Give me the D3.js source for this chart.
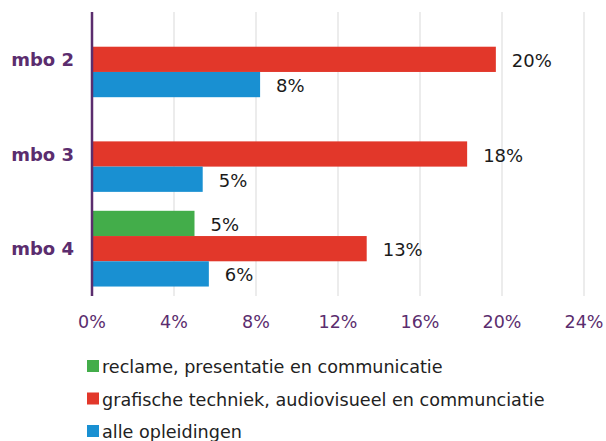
<!DOCTYPE html>
<html>
<head>
<meta charset="utf-8">
<script src="https://cdn.jsdelivr.net/npm/d3@7"></script>
<style>
  body { margin: 0; background: #fff; }
  svg { display: block; font-family: "DejaVu Sans", Verdana, sans-serif; }
</style>
</head>
<body>
<div id="chart"></div>
<script>
// Chart data
var categories = ['mbo 2', 'mbo 3', 'mbo 4'];
var seriesNames = [
  'reclame, presentatie en communicatie',
  'grafische techniek, audiovisueel en communciatie',
  'alle opleidingen'
];
var seriesColors = ['#43ad4a', '#e2372a', '#1990d2'];
var reclameValues = [null, null, 5.0];
var grafischValues = [19.7, 18.3, 13.4];
var alleValues = [8.2, 5.4, 5.7];
var xTicks = [0, 4, 8, 12, 16, 20, 24];

var seriesValues = [reclameValues, grafischValues, alleValues];

// Size & scales
var width = 606, height = 441;
var plotLeft = 92, plotRight = 584, plotTop = 12, plotBottom = 296;

var x = d3.scaleLinear().domain([0, 24]).range([plotLeft, plotRight]);
var y = d3.scaleBand().domain(categories).range([plotTop, plotBottom])
  .paddingInner(0.2).paddingOuter(0.1);
var ySub = d3.scaleBand().domain(d3.range(seriesNames.length))
  .range([0, y.bandwidth()]);

var svg = d3.select('#chart')
  .append('svg')
  .attr('width', width)
  .attr('height', height);

// Gridlines
svg.selectAll('.grid')
  .data(xTicks.slice(1))
  .enter()
  .append('line')
  .attr('class', 'grid')
  .attr('x1', function (d) { return x(d); })
  .attr('x2', function (d) { return x(d); })
  .attr('y1', plotTop)
  .attr('y2', plotBottom)
  .style('stroke', '#d9d9d9')
  .style('stroke-width', 1);

// Bars
var bars = [];
categories.forEach(function (c, ci) {
  seriesValues.forEach(function (vals, si) {
    if (vals[ci] != null) bars.push({ cat: c, s: si, v: vals[ci] });
  });
});

svg.selectAll('.bar')
  .data(bars)
  .enter()
  .append('rect')
  .attr('class', 'bar')
  .attr('x', x(0))
  .attr('y', function (d) { return y(d.cat) + ySub(d.s); })
  .attr('width', function (d) { return x(d.v) - x(0); })
  .attr('height', ySub.bandwidth())
  .style('fill', function (d) { return seriesColors[d.s]; });

// Value labels
svg.selectAll('.val')
  .data(bars)
  .enter()
  .append('text')
  .attr('class', 'val')
  .attr('x', function (d) { return x(d.v) + 16; })
  .attr('y', function (d) { return y(d.cat) + ySub(d.s) + ySub.bandwidth() / 2 + 1; })
  .attr('dominant-baseline', 'central')
  .style('font-size', '18px')
  .style('fill', '#1a1a1a')
  .text(function (d) { return Math.round(d.v) + '%'; });

// Y axis line
svg.append('line')
  .attr('x1', x(0)).attr('x2', x(0))
  .attr('y1', plotTop).attr('y2', plotBottom)
  .style('stroke', '#5b2d6e')
  .style('stroke-width', 2.5);

// Category labels
svg.selectAll('.cat')
  .data(categories)
  .enter()
  .append('text')
  .attr('class', 'cat')
  .attr('x', 74)
  .attr('y', function (d) { return y(d) + y.bandwidth() / 2; })
  .attr('text-anchor', 'end')
  .attr('dominant-baseline', 'central')
  .style('font-size', '18px')
  .style('font-weight', 'bold')
  .style('fill', '#5b2d6e')
  .text(function (d) { return d; });

// X tick labels
svg.selectAll('.tick-label')
  .data(xTicks)
  .enter()
  .append('text')
  .attr('class', 'tick-label')
  .attr('x', function (d) { return x(d); })
  .attr('y', 322)
  .attr('text-anchor', 'middle')
  .attr('dominant-baseline', 'central')
  .style('font-size', '17.5px')
  .style('fill', '#5b2d6e')
  .text(function (d) { return d + '%'; });

// Legend
var legend = svg.selectAll('.legend')
  .data(seriesNames)
  .enter()
  .append('g')
  .attr('class', 'legend')
  .attr('transform', function (d, i) { return 'translate(87,' + (366 + i * 32.5) + ')'; });

legend.append('rect')
  .attr('x', 0)
  .attr('y', -6)
  .attr('width', 12)
  .attr('height', 12)
  .style('fill', function (d, i) { return seriesColors[i]; });

legend.append('text')
  .attr('x', 15)
  .attr('y', 1)
  .attr('dominant-baseline', 'central')
  .style('font-size', '17.6px')
  .style('fill', '#222')
  .text(function (d) { return d; });
</script>
</body>
</html>
